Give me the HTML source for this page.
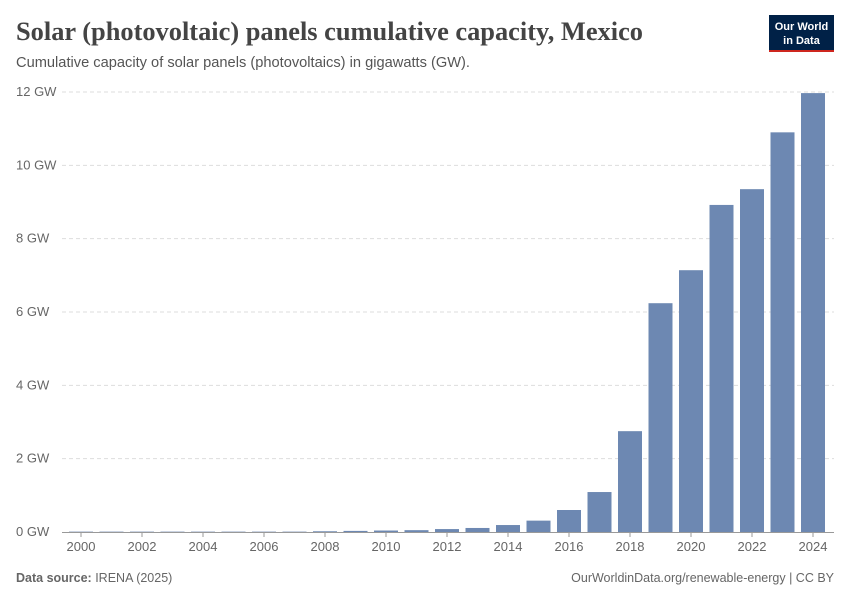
<!DOCTYPE html>
<html><head><meta charset="utf-8"><style>
body{margin:0;background:#fff;font-family:"Liberation Sans",sans-serif;}
</style></head><body>
<svg width="850" height="600" xmlns="http://www.w3.org/2000/svg">
<text x="16" y="40" font-family="Liberation Serif,serif" font-size="26" font-weight="bold" fill="#444" textLength="627" lengthAdjust="spacingAndGlyphs">Solar (photovoltaic) panels cumulative capacity, Mexico</text>
<text x="16" y="67" font-size="14.5" fill="#555" textLength="454" lengthAdjust="spacingAndGlyphs">Cumulative capacity of solar panels (photovoltaics) in gigawatts (GW).</text>
<g>
<rect x="769" y="15" width="65" height="37" fill="#002147"/>
<rect x="769" y="50" width="65" height="2" fill="#ce261e"/>
<text x="801.5" y="30" font-size="11" font-weight="bold" fill="#fff" text-anchor="middle">Our World</text>
<text x="801.5" y="44" font-size="11" font-weight="bold" fill="#fff" text-anchor="middle">in Data</text>
</g>
<g id="grid"></g>
<g id="bars"></g>
<g id="xaxis"></g>
<text x="16" y="582" font-size="12.5" fill="#666"><tspan font-weight="bold">Data source:</tspan> IRENA (2025)</text>
<text x="834" y="582" font-size="12.5" fill="#666" text-anchor="end">OurWorldinData.org/renewable-energy | CC BY</text>
</svg>
<script>
const years=[2000,2001,2002,2003,2004,2005,2006,2007,2008,2009,2010,2011,2012,2013,2014,2015,2016,2017,2018,2019,2020,2021,2022,2023,2024];
const values=[0.01,0.01,0.01,0.01,0.01,0.01,0.01,0.01,0.02,0.03,0.04,0.05,0.08,0.11,0.19,0.31,0.6,1.09,2.75,6.24,7.14,8.92,9.35,10.9,11.97];
const yTicks=[0,2,4,6,8,10,12];
const xTicks=[2000,2002,2004,2006,2008,2010,2012,2014,2016,2018,2020,2022,2024];
const NS="http://www.w3.org/2000/svg";
const y=v=>532-v*(440/12);
const x=yr=>81+(yr-2000)*30.5;
function mk(t,a,p){const e=document.createElementNS(NS,t);for(const k in a)e.setAttribute(k,a[k]);p.appendChild(e);return e;}
const g=document.getElementById('grid');
yTicks.forEach(t=>{
 if(t>0){const l=mk('line',{x1:62,x2:834,y1:y(t),y2:y(t),stroke:'#ddd','stroke-dasharray':'4,3'},g);
 
 }
 const tx=mk('text',{x:16,y:y(t)+4,'font-size':13,fill:'#666'},g);tx.textContent=t+' GW';
 
 
});
const b=document.getElementById('bars');
years.forEach((yr,i)=>{
 const r=mk('rect',{x:x(yr)-12,y:y(values[i]),width:24,height:532-y(values[i]),fill:'#6d88b2'},b);
 
 
});
const xa=document.getElementById('xaxis');
const ax=mk('line',{x1:62,x2:834,y1:532.5,y2:532.5,stroke:'#999'},xa);


xTicks.forEach(t=>{
 mk('line',{x1:x(t),x2:x(t),y1:532,y2:537,stroke:'#999'},xa);
 const tx=mk('text',{x:x(t),y:551,'font-size':13,fill:'#666','text-anchor':'middle'},xa);tx.textContent=t;
 
 
});
</script>
</body></html>
